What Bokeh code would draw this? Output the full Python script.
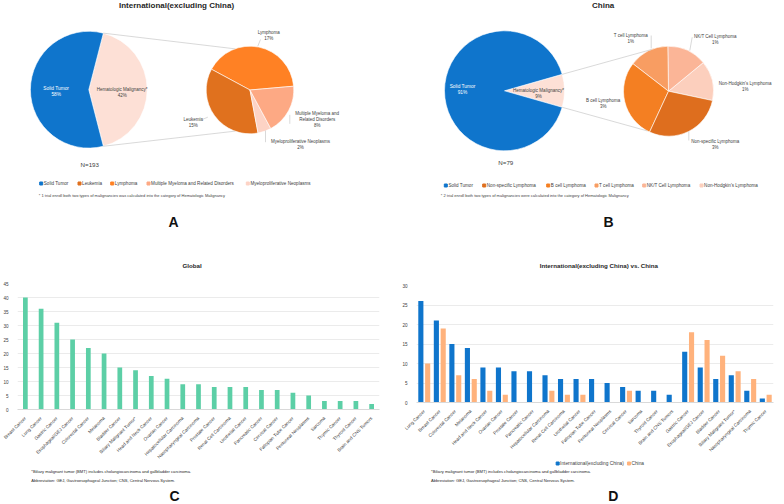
import math
from bokeh.plotting import figure
from bokeh.models import ColumnDataSource, Range1d, FactorRange
from bokeh.layouts import row, column
from bokeh.transform import dodge
from bokeh.embed import file_html
from bokeh.resources import INLINE
from bokeh.core.properties import value

FONT = "Liberation Sans"
TXT = "#404040"

# ---------------- Panel A data ----------------
a_title = "International(excluding China)"
a_main_labels = ["Hematologic Malignancy*", "Solid Tumor"]
a_main_counts = [81, 112]
a_main_colors = ["#FDE0D6", "#0F75CC"]
a_sub_labels = ["Lymphoma", "Leukemia", "Myeloproliferative Neoplasms",
                "Multiple Myeloma and Related Disorders"]
a_sub_counts = [33, 29, 4, 15]
a_sub_colors = ["#FF8124", "#E0711E", "#FDD3C5", "#FDA984"]
a_legend_labels = ["Solid Tumor", "Leukemia", "Lymphoma",
                   "Multiple Myeloma and Related Disorders", "Myeloproliferative Neoplasms"]
a_legend_colors = ["#0F75CC", "#E0711E", "#FF8124", "#FDA984", "#FDD3C5"]
a_note = ("* 1 trial enroll both two types of  malignancies was calculated "
          "into the category of Hematologic Malignancy")

# ---------------- Panel B data ----------------
b_title = "China"
b_main_labels = ["Hematologic Malignancy*", "Solid Tumor"]
b_main_counts = [7, 72]
b_main_colors = ["#FDE0D6", "#0F75CC"]
b_sub_labels = ["Non-Hodgkin's Lymphoma", "NK/T Cell Lymphoma", "T cell Lymphoma",
                "B cell Lymphoma", "Non-specific Lymphoma"]
b_sub_counts = [1, 1, 1, 2, 2]
b_sub_colors = ["#FCCFBD", "#FBB597", "#F89D62", "#F47F22", "#DE6E1E"]
b_legend_labels = ["Solid Tumor", "Non-specific Lymphoma", "B cell Lymphoma",
                   "T cell Lymphoma", "NK/T Cell Lymphoma", "Non-Hodgkin's Lymphoma"]
b_legend_colors = ["#0F75CC", "#DE6E1E", "#F47F22", "#F89D62", "#FBB597", "#FCCFBD"]
b_note = ("* 2 trial enroll both two types of  malignancies were calculated "
          "into the category of Hematologic Malignancy")

# ---------------- Panel C data ----------------
c_title = "Global"
c_cats = ["Breast Cancer", "Lung Cancer", "Gastric Cancer", "Esophageal/GEJ Cancer",
          "Colorectal Cancer", "Melanoma", "Bladder Cancer", "Biliary Malignant Tumor*",
          "Head and Neck Cancer", "Ovarian Cancer", "Hepatocellular Carcinoma",
          "Nasopharyngeal Carcinoma", "Prostate Cancer", "Renal Cell Carcinoma",
          "Urothelial Cancer", "Pancreatic Cancer", "Cervical Cancer",
          "Fallopian Tube Cancer", "Peritoneal Neoplasms", "Sarcoma", "Thymic Cancer",
          "Thyroid Cancer", "Brain and CNS Tumors"]
c_vals = [40, 36, 31, 25, 22, 20, 15, 14, 12, 11, 9, 9, 8, 8, 8, 7, 7, 6, 5, 3, 3, 3, 2]
c_yticks = [0, 5, 10, 15, 20, 25, 30, 35, 40, 45]

# ---------------- Panel D data ----------------
d_title = "International(excluding China) vs. China"
d_cats = ["Lung Cancer", "Breast Cancer", "Colorectal Cancer", "Melanoma",
          "Head and Neck Cancer", "Ovarian Cancer", "Prostate Cancer", "Pancreatic Cancer",
          "Hepatocellular Carcinoma", "Renal Cell Carcinoma", "Urothelial Cancer",
          "Fallopian Tube Cancer", "Peritoneal Neoplasms", "Cervical Cancer", "Sarcoma",
          "Thyroid Cancer", "Brain and CNS Tumors", "Gastric Cancer", "Esophageal/GEJ Cancer",
          "Bladder Cancer", "Biliary Malignant Tumor*", "Nasopharyngeal Carcinoma",
          "Thymic Cancer"]
d_intl = [26, 21, 15, 14, 9, 9, 8, 8, 7, 6, 6, 6, 5, 4, 3, 3, 2, 13, 9, 6, 7, 3, 1]
d_china = [10, 19, 7, 6, 3, 2, 0, 0, 3, 2, 2, 0, 0, 3, 0, 0, 0, 18, 16, 12, 8, 6, 2]
d_series = ["International(excluding China)", "China"]
d_colors = ["#0F75CC", "#FFB27C"]
d_yticks = [0, 5, 10, 15, 20, 25, 30]

note1 = "*Biliary malignant tumor (BMT) includes cholangiocarcinoma and gallbladder carcinoma."
note2 = "Abbreviation: GEJ, Gastroesophageal Junction; CNS, Central Nervous System."

W = 392
TOP_H = 250
BOT_H = 254


def canvas(w, h):
    p = figure(width=w, height=h, x_range=Range1d(0, w), y_range=Range1d(0, h),
               output_backend="svg", toolbar_location=None, min_border=0,
               x_axis_location=None, y_axis_location=None, outline_line_color=None)
    p.grid.visible = False
    return p


def put_text(p, xs, ys, texts, size, color=TXT, align="center", baseline="middle", bold=False):
    p.text(x=xs, y=ys, text=texts, text_font=value(FONT), text_font_size=f"{size}px",
           text_color=color, text_align=align, text_baseline=baseline,
           text_font_style="bold" if bold else "normal")


def angles(counts, start_deg):
    tot = sum(counts)
    a = math.radians(start_deg)
    s, e = [], []
    for c in counts:
        s.append(a)
        a += 2 * math.pi * c / tot
        e.append(a)
    return s, e


def pie(p, cx, cy, r, counts, colors, start_deg):
    s, e = angles(counts, start_deg)
    src = ColumnDataSource(dict(x=[cx] * len(counts), y=[cy] * len(counts), s=s, e=e, c=colors))
    p.wedge(x="x", y="y", radius=r, start_angle="s", end_angle="e", fill_color="c",
            line_color="white", line_width=0.6, source=src)
    return s, e


def pie_panel(title, main_counts, main_colors, sub_counts, sub_colors, sub_start,
              big, small, link_deg, main_lbl, legend_labels, legend_colors, legend_pos,
              note, note_x, n_pos, letter, letter_x, title_x):
    p = canvas(W, TOP_H)
    (bx, by, br), (sx, sy, sr) = big, small
    hem = main_counts[0]
    tot = sum(main_counts)
    half = 180.0 * hem / tot
    s, e = pie(p, bx, by, br, main_counts, main_colors, -half)
    pie(p, sx, sy, sr, sub_counts, sub_colors, sub_start)
    # connector lines from the hematologic slice edges to the secondary pie
    x0 = [bx + br * math.cos(e[0]), bx + br * math.cos(s[0])]
    y0 = [by + br * math.sin(e[0]), by + br * math.sin(s[0])]
    x1 = [sx + sr * math.cos(math.radians(d)) for d in link_deg]
    y1 = [sy + sr * math.sin(math.radians(d)) for d in link_deg]
    p.segment(x0=x0, y0=y0, x1=x1, y1=y1, line_color="#C9C9C9", line_width=0.7)
    put_text(p, [title_x], [245], [title], 8, color="#262626", bold=True)
    # main pie labels
    pct_main = [f"{round(100 * c / tot)}%" for c in main_counts]
    (hx, hy), (tx, ty) = main_lbl
    put_text(p, [tx, tx], [ty + 3, ty - 3], ["Solid Tumor", pct_main[1]], 4.8, color="white")
    put_text(p, [hx, hx], [hy + 3, hy - 3], ["Hematologic Malignancy*", pct_main[0]], 4.5)
    put_text(p, [n_pos[0]], [n_pos[1]], [f"N={tot}"], 6.2)
    # legend
    lx, ly = legend_pos
    p.scatter(x=lx, y=[ly] * len(lx), marker="square", size=3, color=legend_colors)
    put_text(p, [x + 2.6 for x in lx], [ly] * len(lx), legend_labels, 4.6, align="left")
    put_text(p, [note_x], [55], [note], 4.0, align="left")
    put_text(p, [letter_x], [29], [letter], 14, color="#111111", bold=True, baseline="alphabetic")
    return p, tot


# ---------------- Panel A ----------------
pa, a_tot = pie_panel(a_title, a_main_counts, a_main_colors, a_sub_counts, a_sub_colors, 5,
                      (88.3, 160.8, 58.4), (249.5, 160.5, 43.8), (110, -110),
                      ((121.7, 158.2), (55.7, 158.7)),
                      a_legend_labels, a_legend_colors, ([40.7, 79, 111.7, 148, 247.3], 67),
                      a_note, 38.3, (89.3, 85.7), "A", 173, 176)
a_pct = [f"{round(100 * c / a_tot)}%" for c in a_sub_counts]
put_text(pa, [268.3, 268.3], [217.7, 211.7], [a_sub_labels[0], a_pct[0]], 4.5)
put_text(pa, [192.7, 192.7], [131, 124.7], [a_sub_labels[1], a_pct[1]], 4.5)
put_text(pa, [300, 300], [109, 102.7], [a_sub_labels[2], a_pct[2]], 4.5)
put_text(pa, [316.7, 316.7, 316.7], [137.3, 131, 124.7],
         ["Multiple Myeloma and", "Related Disorders", a_pct[3]], 4.5)
pa.segment(x0=[260, 199.3, 289.3, 265], y0=[211, 130, 135.7, 120],
           x1=[257.3, 207.3, 289.3, 265], y1=[204.3, 133.3, 126.7, 108.3],
           line_color="#BFBFBF", line_width=0.6)

# ---------------- Panel B ----------------
pb, b_tot = pie_panel(b_title, b_main_counts, b_main_colors, b_sub_counts, b_sub_colors, -12,
                      (112, 159.7, 60), (276, 159.3, 45), (112, -118),
                      ((146, 157.2), (70, 160.8)),
                      b_legend_labels, b_legend_colors, ([53.3, 91.7, 155.7, 204, 251.7, 309], 65),
                      b_note, 48.3, (113.3, 88), "B", 216, 210.7)
b_pct = [f"{round(100 * c / b_tot)}%" for c in b_sub_counts]
b_lpos = [(352.7, 163.7), (322.7, 210.8), (238.3, 211.8), (210.7, 146.7), (322.7, 106.2)]
for lbl, pct, (x, y) in zip(b_sub_labels, b_pct, b_lpos):
    put_text(pb, [x, x], [y + 3.1, y - 3.1], [lbl, pct], 4.5)
pb.segment(x0=[258.7, 299.7, 296.3], y0=[215, 213.3, 119],
           x1=[258.7, 297.3, 296.3], y1=[202, 200, 110],
           line_color="#BFBFBF", line_width=0.6)


# ---------------- Bar panels ----------------
def style_chart(p, ticks):
    p.yaxis.ticker = ticks
    p.yaxis.axis_line_color = None
    p.yaxis.major_tick_line_color = None
    p.yaxis.minor_tick_line_color = None
    p.yaxis.major_label_standoff = 3
    p.xaxis.major_tick_line_color = None
    p.xaxis.axis_line_color = "#D9D9D9"
    p.xaxis.major_label_orientation = math.pi / 4
    p.xaxis.major_label_standoff = 2
    for ax in (p.xaxis, p.yaxis):
        ax.major_label_text_font = FONT
        ax.major_label_text_font_size = "4.6px"
        ax.major_label_text_color = TXT
    p.xgrid.grid_line_color = None
    p.ygrid.grid_line_color = "#EBEBEB"
    p.outline_line_color = None


TITLE_H = 30

# Panel C
ct = canvas(W, TITLE_H)
put_text(ct, [189], [15], [c_title], 6.2, color="#262626", bold=True)
c_h = 3 + 126 + 58
pc = figure(width=W, height=c_h, x_range=FactorRange(*c_cats), y_range=Range1d(0, 45),
            output_backend="svg", toolbar_location=None,
            min_border_left=13, min_border_right=13, min_border_top=3, min_border_bottom=58)
pc.vbar(x=c_cats, top=c_vals, width=0.3, fill_color="#5CCFA6", line_color=None)
style_chart(pc, c_yticks)
c_fh = BOT_H - TITLE_H - c_h
cf = canvas(W, c_fh)
put_text(cf, [15, 15], [c_fh - 4, c_fh - 12.5], [note1, note2], 4.1, align="left", color="#262626")
put_text(cf, [170], [0.5], ["C"], 14, color="#111111", bold=True, baseline="bottom")

# Panel D
dt = canvas(W, TITLE_H)
put_text(dt, [200.3], [15], [d_title], 6.2, color="#262626", bold=True)
d_h = 5 + 117 + 58
pd_ = figure(width=W, height=d_h, x_range=FactorRange(*d_cats), y_range=Range1d(0, 30),
             output_backend="svg", toolbar_location=None,
             min_border_left=24, min_border_right=11, min_border_top=5, min_border_bottom=58)
dsrc = ColumnDataSource(dict(cat=d_cats, intl=d_intl, china=d_china))
pd_.vbar(x=dodge("cat", -0.22, range=pd_.x_range), top="intl", width=0.33,
         fill_color=d_colors[0], line_color=None, source=dsrc)
pd_.vbar(x=dodge("cat", 0.22, range=pd_.x_range), top="china", width=0.33,
         fill_color=d_colors[1], line_color=None, source=dsrc)
style_chart(pd_, d_yticks)
d_fh = BOT_H - TITLE_H - d_h
df = canvas(W, d_fh)
df.scatter(x=[155, 233.3], y=[d_fh - 3, d_fh - 3], marker="square", size=3, color=d_colors)
put_text(df, [157.7, 236], [d_fh - 3, d_fh - 3], d_series, 4.8, align="left")
put_text(df, [16, 16], [d_fh - 11, d_fh - 19.5], [note1, note2], 4.1, align="left", color="#262626")
put_text(df, [216], [0.5], ["D"], 14, color="#111111", bold=True, baseline="bottom")

layout = column(row(pa, pb),
                row(column(ct, pc, cf), column(dt, pd_, df)))

open("out.html", "w").write(file_html(layout, INLINE))
